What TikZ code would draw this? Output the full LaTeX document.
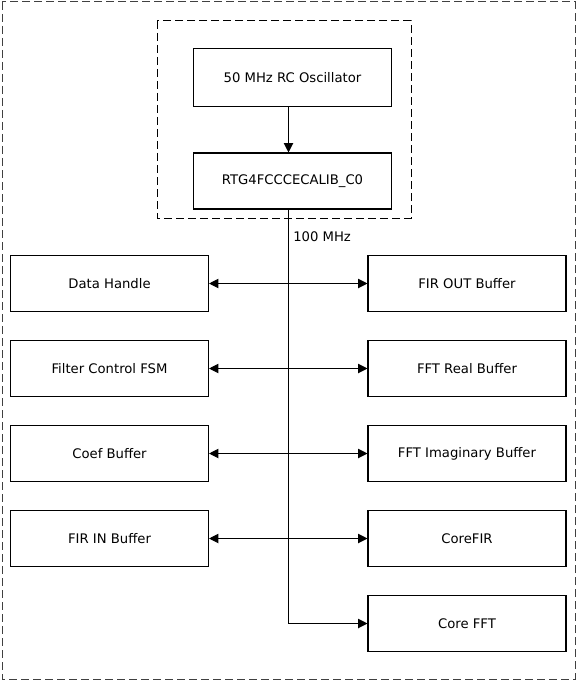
\documentclass[tikz,border=0pt]{standalone}
\usepackage{fontspec}
\setmainfont{DejaVu Sans}
\usepackage{tikz}
\usetikzlibrary{arrows.meta}

\tikzset{
    blockbox/.style={draw, line width=0.8pt, rectangle, minimum width=148.5pt, minimum height=42pt, inner sep=0pt, font=\fontsize{9.9}{12}\selectfont},
    groupbox/.style={draw, line width=0.75pt, dash pattern=on 6pt off 3pt},
    tip/.style={line width=0.8pt, -{Triangle[length=7pt,width=7pt]}},
    bothtip/.style={line width=0.8pt, {Triangle[length=7pt,width=7pt]}-{Triangle[length=7pt,width=7pt]}}
}

\begin{document}
\begin{tikzpicture}[x=0.75pt,y=0.75pt,yscale=-1,xscale=1]
    \useasboundingbox (0,0) rectangle (577,681);

    %Shape: outer and clock dashed frames
    \draw [groupbox, black!75] (2,2) rectangle (575,679);
    \draw [groupbox] (157,21) rectangle (411,218);

    %Clock blocks
    \node [blockbox, minimum height=44pt] (osc) at (292.5,77.5) {50 MHz RC Oscillator};
    \node [blockbox] (rtg) at (292.5,181) {RTG4FCCCECALIB\_C0};
    \coordinate (bus) at (288.5,0);

    %Left blocks
    \node [blockbox] (datah) at (109.5,283.5) {Data Handle};
    \node [blockbox] (fsm) at (109.5,368.5) {Filter Control FSM};
    \node [blockbox] (coef) at (109.5,453.5) {Coef Buffer};
    \node [blockbox] (firin) at (109.5,538.5) {FIR IN Buffer};

    %Right blocks
    \node [blockbox] (firout) at (467,283.5) {FIR OUT Buffer};
    \node [blockbox] (fftre) at (467,368.5) {FFT Real Buffer};
    \node [blockbox] (fftim) at (467,453.5) {FFT Imaginary Buffer};
    \node [blockbox] (corefir) at (467,538.5) {CoreFIR};
    \node [blockbox] (corefft) at (467,623.5) {Core FFT};

    %Clock line
    \draw [tip] (osc.south -| bus) -- (rtg.north -| bus);
    \draw [tip] (rtg.south -| bus) |- (corefft.west);
    \node [anchor=west, inner sep=0.75pt, font=\fontsize{9.9}{12}\selectfont] (mhz) at (292,237) {100 MHz};

    %Data links
    \draw [bothtip] (datah.east) -- (firout.west);
    \draw [bothtip] (fsm.east) -- (fftre.west);
    \draw [bothtip] (coef.east) -- (fftim.west);
    \draw [bothtip] (firin.east) -- (corefir.west);

\end{tikzpicture}
\end{document}
